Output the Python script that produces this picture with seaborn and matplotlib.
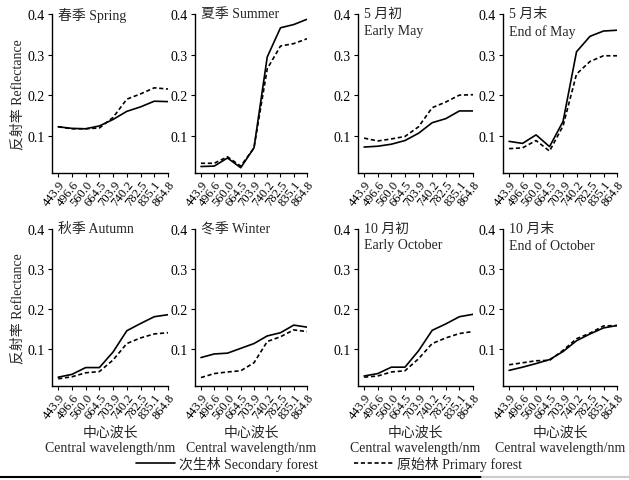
import numpy as np
import pandas as pd
import matplotlib
matplotlib.use("Agg")
import matplotlib.pyplot as plt
from matplotlib.lines import Line2D
from matplotlib.transforms import ScaledTranslation
import seaborn as sns

sns.set_theme(style="ticks")
plt.rcParams['font.family'] = ['Liberation Serif', 'Noto Sans CJK SC', 'DejaVu Sans']
plt.rcParams['font.size'] = 10

############################################
# DATA
############################################

wavelengths = ["443.9", "496.6", "560.0", "664.5", "703.9",
               "740.2", "782.5", "835.1", "864.8"]

panel_titles = ["春季 Spring", "夏季 Summer", "5 月初\nEarly May", "5 月末\nEnd of May",
                "秋季 Autumn", "冬季 Winter", "10 月初\nEarly October", "10 月末\nEnd of October"]

spring_secondary = [0.122, 0.118, 0.117, 0.124, 0.140, 0.160, 0.171, 0.185, 0.184]
spring_primary   = [0.122, 0.117, 0.117, 0.119, 0.145, 0.190, 0.203, 0.218, 0.215]

summer_secondary = [0.024, 0.025, 0.045, 0.021, 0.070, 0.294, 0.366, 0.374, 0.387]
summer_primary   = [0.032, 0.032, 0.048, 0.025, 0.070, 0.265, 0.321, 0.327, 0.339]

early_may_secondary = [0.072, 0.074, 0.079, 0.088, 0.106, 0.132, 0.142, 0.161, 0.161]
early_may_primary   = [0.094, 0.087, 0.092, 0.098, 0.122, 0.169, 0.183, 0.200, 0.201]

end_may_secondary = [0.086, 0.081, 0.102, 0.073, 0.135, 0.307, 0.345, 0.358, 0.360]
end_may_primary   = [0.068, 0.070, 0.088, 0.062, 0.124, 0.252, 0.283, 0.297, 0.297]

autumn_secondary = [0.030, 0.037, 0.054, 0.054, 0.093, 0.146, 0.164, 0.181, 0.186]
autumn_primary   = [0.026, 0.031, 0.041, 0.044, 0.073, 0.114, 0.128, 0.138, 0.141]

winter_secondary = [0.079, 0.088, 0.090, 0.102, 0.114, 0.133, 0.141, 0.160, 0.155]
winter_primary   = [0.029, 0.039, 0.043, 0.046, 0.066, 0.119, 0.131, 0.148, 0.144]

early_oct_secondary = [0.033, 0.039, 0.055, 0.055, 0.096, 0.147, 0.163, 0.181, 0.187]
early_oct_primary   = [0.030, 0.033, 0.043, 0.046, 0.076, 0.114, 0.128, 0.139, 0.144]

end_oct_secondary = [0.047, 0.055, 0.064, 0.074, 0.094, 0.121, 0.138, 0.153, 0.159]
end_oct_primary   = [0.061, 0.066, 0.071, 0.072, 0.097, 0.126, 0.140, 0.158, 0.159]

series = [
    (spring_secondary, spring_primary),
    (summer_secondary, summer_primary),
    (early_may_secondary, early_may_primary),
    (end_may_secondary, end_may_primary),
    (autumn_secondary, autumn_primary),
    (winter_secondary, winter_primary),
    (early_oct_secondary, early_oct_primary),
    (end_oct_secondary, end_oct_primary),
]

secondary_label = "次生林 Secondary forest"
primary_label = "原始林 Primary forest"

############################################
# LAYOUT (pixels of a 629x481 figure)
############################################

W, H = 629, 481
col_px = [(52, 168), (195, 307), (358, 473), (503, 617)]
row_px = [(15, 174), (230, 387)]

fig = plt.figure(figsize=(W / 100, H / 100), dpi=100)
fig.patch.set_facecolor("white")

positions = np.arange(len(wavelengths))
title_shift = ScaledTranslation(0, 7 / 100, fig.dpi_scale_trans)

for i, (sec, pri) in enumerate(series):
    r, c = divmod(i, 4)
    x0, x1 = col_px[c]
    t0, b0 = row_px[r]
    ax = fig.add_axes([x0 / W, 1 - b0 / H, (x1 - x0) / W, (b0 - t0) / H])

    df = pd.DataFrame({
        "pos": np.concatenate([positions, positions]),
        "refl": sec + pri,
        "forest": [secondary_label] * len(sec) + [primary_label] * len(pri),
    })
    sns.lineplot(
        data=df, x="pos", y="refl", style="forest",
        dashes={secondary_label: "", primary_label: (2.5, 1.6)},
        color="black", linewidth=1.2, legend=False, ax=ax
    )

    ax.set_xlim(-0.45, 8)
    ax.set_ylim(0.008, 0.4)
    ax.set_yticks([0.1, 0.2, 0.3, 0.4])
    ax.set_yticklabels(["0.1", "0.2", "0.3", "0.4"])
    ax.set_xticks(positions)
    ax.set_xticklabels(wavelengths, rotation=52, ha="right",
                       rotation_mode="anchor", fontsize=9)
    ax.tick_params(axis="both", direction="out", length=3, width=0.8,
                   labelsize=10, colors="black", pad=2)
    ax.tick_params(axis="x", pad=1, labelsize=9)
    for s in ["top", "right"]:
        ax.spines[s].set_visible(False)
    for s in ["left", "bottom"]:
        ax.spines[s].set_linewidth(1.0)
        ax.spines[s].set_color("black")
    ax.set_facecolor("white")

    ax.text(0.055, 1.0, panel_titles[i], transform=ax.transAxes + title_shift,
            ha="left", va="top", fontsize=10, linespacing=1.35)

    if c == 0:
        ax.set_ylabel("反射率 Reflectance", fontsize=10)
        ax.yaxis.set_label_coords(-0.24, 0.5)
    else:
        ax.set_ylabel("")

    if r == 1:
        ax.set_xlabel("中心波长\nCentral wavelength/nm", fontsize=10,
                      linespacing=1.25, labelpad=3)
    else:
        ax.set_xlabel("")

# legend
handles = [
    Line2D([], [], color="black", linewidth=1.2, linestyle="-"),
    Line2D([], [], color="black", linewidth=1.2, dashes=(2.5, 1.6)),
]
fig.legend(handles, [secondary_label, primary_label], loc="center",
           bbox_to_anchor=(329 / W, 1 - 464 / H), ncol=2, frameon=False,
           fontsize=10, handlelength=2.8, handletextpad=0.3,
           columnspacing=2.6, borderpad=0)

# page edge line at the bottom
fig.add_artist(Line2D([0, 482 / W], [1 - 478 / H, 1 - 478 / H],
                      color="black", linewidth=1.5))
fig.add_artist(Line2D([482 / W, 1], [1 - 478 / H, 1 - 478 / H],
                      color="#cccccc", linewidth=1.5))

plt.savefig("out.png", dpi=100, facecolor="white")
plt.close()
